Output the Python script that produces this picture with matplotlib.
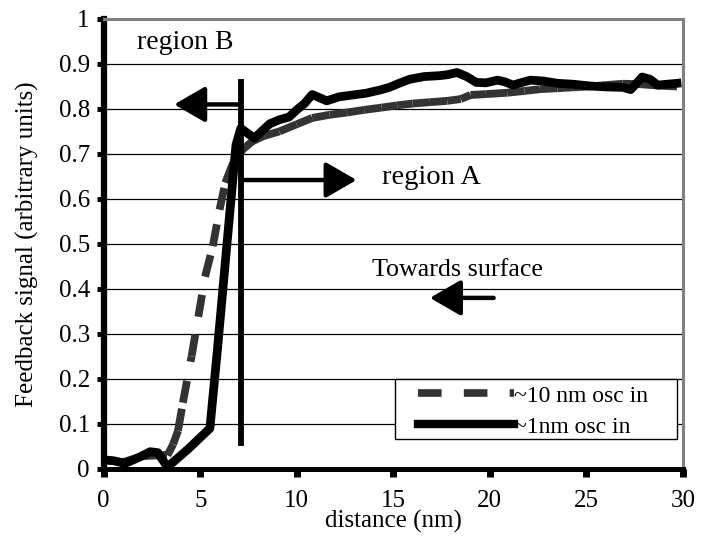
import matplotlib
matplotlib.use("Agg")
import matplotlib.pyplot as plt
from matplotlib.collections import LineCollection
from matplotlib.lines import Line2D
from matplotlib.patches import Rectangle
import numpy as np

plt.rcParams['font.family'] = ['Liberation Serif', 'DejaVu Serif']
plt.rcParams['lines.scale_dashes'] = False

# ~1nm osc in (solid black)
x_1nm = [0, 0.5, 1.1, 1.8, 2.4, 2.8, 3.3, 4.4, 5.5, 5.9, 6.3, 6.85,
         7.1, 7.8, 8.6, 9.1, 9.6, 10.0, 10.4, 10.8, 11.55, 12.2, 13.6, 14.3,
         14.8, 15.3, 15.85, 16.6, 17.4, 17.8, 18.3, 18.8, 19.3, 19.8, 20.4,
         20.8, 21.2, 21.6, 22.1, 22.8, 23.5, 24.3, 25.2, 26.0, 26.9, 27.3,
         27.9, 28.3, 28.7, 29.2, 29.7]
y_1nm = [0.02, 0.018, 0.012, 0.025, 0.038, 0.036, 0.004, 0.045, 0.09,
         0.27, 0.46, 0.72, 0.757, 0.735, 0.767, 0.776, 0.782, 0.798,
         0.812, 0.832, 0.818, 0.827, 0.835, 0.842, 0.848, 0.857, 0.866, 0.872,
         0.874, 0.876, 0.881, 0.872, 0.859, 0.858, 0.864, 0.86, 0.853, 0.858,
         0.864, 0.862, 0.857, 0.855, 0.851, 0.849, 0.848, 0.843, 0.871, 0.866,
         0.853, 0.855, 0.857]

# ~10 nm osc in (dashed dark grey)
x_10nm = [0, 1.0, 2.0, 2.8, 3.3, 3.6, 3.85, 4.1, 4.55, 4.9, 5.25, 5.65, 6.0,
          6.3, 6.7, 7.2, 7.7, 8.3, 9.1, 10.0, 10.8, 11.7, 12.6, 13.5, 14.4,
          15.2, 16.0, 16.9, 17.8, 18.5, 19.0, 19.8, 20.9, 21.8, 22.6, 23.5,
          24.3, 25.2, 26.0, 26.9, 27.8, 28.7, 29.7]
y_10nm = [0.02, 0.015, 0.028, 0.03, 0.03, 0.055, 0.085, 0.147, 0.25, 0.338,
          0.427, 0.495, 0.576, 0.636, 0.68, 0.71, 0.728, 0.74, 0.75, 0.766,
          0.78, 0.787, 0.792, 0.798, 0.803, 0.808, 0.812, 0.815, 0.818, 0.822,
          0.831, 0.833, 0.836, 0.84, 0.844, 0.846, 0.848, 0.85, 0.853, 0.856,
          0.855, 0.852, 0.85]

labels = ['~10 nm osc in', '~1nm osc in']
x_ticks = [0, 5, 10, 15, 20, 25, 30]
y_ticks = [0, 0.1, 0.2, 0.3, 0.4, 0.5, 0.6, 0.7, 0.8, 0.9, 1]
y_ticklabels = ['0', '0.1', '0.2', '0.3', '0.4', '0.5', '0.6', '0.7', '0.8', '0.9', '1']

grey = '#333333'

fig = plt.figure(figsize=(7.01, 5.42), dpi=100)
ax = fig.add_axes([0.148, 0.135, 0.826, 0.83])

ax.set_xlim(0, 30)
ax.set_ylim(0, 1)

# dashed curve: dash pattern restarts on every segment (Excel style)
pts = np.column_stack([x_10nm, y_10nm])
segs = np.stack([pts[:-1], pts[1:]], axis=1)
lc = LineCollection(segs, colors=grey, linewidths=5.6,
                    linestyles=[(0, (16, 14))], capstyle='butt', zorder=3)
ax.add_collection(lc)

ax.plot(x_1nm, y_1nm, color='k', lw=6.3, solid_joinstyle='round', zorder=4)

# boundary line between regions
ax.plot([7.1, 7.1], [0.058, 0.86], color='k', lw=4.2, zorder=5)

arrow = dict(arrowstyle='-|>,head_length=0.95,head_width=0.55', color='k',
             lw=3.2, mutation_scale=20, shrinkA=0, shrinkB=0)
ax.annotate('', xy=(3.65, 0.81), xytext=(7.1, 0.81), arrowprops=arrow, zorder=5)
ax.annotate('', xy=(13.1, 0.642), xytext=(7.1, 0.642), arrowprops=arrow, zorder=5)
ax.annotate('', xy=(16.9, 0.38), xytext=(20.2, 0.38), arrowprops=arrow, zorder=5)

ax.text(1.7, 0.947, 'region B', fontsize=20, va='center', ha='left')
ax.text(14.4, 0.647, 'region A', fontsize=20.5, va='center', ha='left')
ax.text(13.9, 0.442, 'Towards surface', fontsize=18.7, va='center', ha='left')

# axes styling
ax.set_xticks(x_ticks)
ax.set_yticks(y_ticks)
ax.set_yticklabels(y_ticklabels)
ax.yaxis.grid(True, color='k', lw=0.9)
ax.set_axisbelow(True)
for s in ['top', 'right']:
    ax.spines[s].set_color('#808080')
    ax.spines[s].set_linewidth(2.2)
ax.spines['left'].set_linewidth(4.5)
ax.spines['bottom'].set_linewidth(3.6)
ax.tick_params(axis='x', direction='out', length=6, width=5, pad=9, labelsize=18)
ax.tick_params(axis='y', direction='out', length=5, width=3.6, pad=5, labelsize=18)
ax.set_xlabel('distance (nm)', fontsize=18, labelpad=-1)
ax.set_ylabel('Feedback signal (arbitrary units)', fontsize=18, labelpad=14)

# legend frame drawn separately so the inner padding can match the original
frame = Rectangle((0.503, 0.067), 0.487, 0.133, transform=ax.transAxes,
                  facecolor='white', edgecolor='k', lw=1.0, zorder=6)
ax.add_patch(frame)
handles = [Line2D([], [], color=grey, lw=5.5, dashes=(17, 16)),
           Line2D([], [], color='k', lw=6.0)]
leg = ax.legend(handles, labels, loc='upper left', bbox_to_anchor=(0.542, 0.186),
                borderaxespad=0, fontsize=17, handlelength=4.1, handletextpad=0.0,
                labelspacing=0.4, borderpad=0, frameon=False)
leg.set_zorder(7)

fig.savefig('out.png', dpi=100)
